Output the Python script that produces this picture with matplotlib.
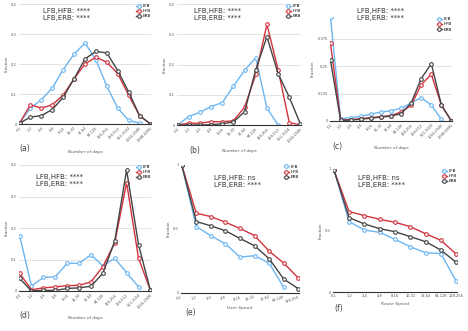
import numpy as np
import matplotlib
matplotlib.use("Agg")
import matplotlib.pyplot as plt

W, H = 468, 331

days13 = ["0-1", "1-2", "2-4", "4-8", "8-16", "16-32", "32-64", "64-128", "128-256",
          "256-512", "512-1024", "1024-2048", "2048-4096"]
days12 = days13[:12]
speed = ["0-1", "1-2", "2-4", "4-8", "8-16", "16-32", "32-64", "64-128", "128-256"]

nan = np.nan
# (a)
a_lfb = [0.003, 0.053, 0.081, 0.12, 0.181, 0.233, 0.27, 0.214, 0.126, 0.053, 0.012, 0.003, nan]
a_hfb = [0.003, 0.064, 0.053, 0.064, 0.096, 0.151, 0.2, 0.223, 0.206, 0.168, 0.096, 0.028, 0.0]
a_erb = [0.003, 0.023, 0.028, 0.048, 0.089, 0.151, 0.217, 0.242, 0.237, 0.178, 0.107, 0.028, 0.0]
# (b)
b_lfb = [0.0, 0.028, 0.042, 0.061, 0.074, 0.128, 0.181, 0.222, 0.056, 0.0, nan, nan]
b_hfb = [0.0, 0.006, 0.006, 0.011, 0.011, 0.014, 0.059, 0.167, 0.333, 0.183, 0.008, 0.0]
b_erb = [0.0, 0.0, 0.0, 0.001, 0.004, 0.01, 0.044, 0.183, 0.292, 0.17, 0.092, 0.003]
# (c)
c_lfb = [0.473, 0.011, 0.015, 0.021, 0.032, 0.04, 0.047, 0.058, 0.082, 0.107, 0.072, 0.008, nan]
c_hfb = [0.354, 0.006, 0.006, 0.011, 0.015, 0.02, 0.025, 0.041, 0.072, 0.166, 0.213, 0.072, 0.0]
c_erb = [0.277, 0.003, 0.004, 0.008, 0.013, 0.018, 0.022, 0.034, 0.082, 0.194, 0.262, 0.072, 0.0]
# (d)
d_lfb = [0.176, 0.016, 0.043, 0.045, 0.088, 0.088, 0.115, 0.08, 0.104, 0.058, 0.013, nan]
d_hfb = [0.056, 0.004, 0.01, 0.013, 0.017, 0.018, 0.029, 0.077, 0.153, 0.344, 0.104, 0.002]
d_erb = [0.04, 0.0, 0.002, 0.002, 0.008, 0.01, 0.015, 0.056, 0.158, 0.384, 0.147, 0.002]
# (e)
e_lfb = [1.0, 0.519, 0.447, 0.384, 0.281, 0.291, 0.234, 0.044, nan]
e_hfb = [1.0, 0.623, 0.597, 0.553, 0.504, 0.449, 0.327, 0.234, 0.117]
e_erb = [1.0, 0.558, 0.525, 0.486, 0.426, 0.369, 0.268, 0.109, 0.034]
# (f)
f_lfb = [1.0, 0.572, 0.504, 0.485, 0.428, 0.368, 0.319, 0.313, 0.087]
f_hfb = [0.995, 0.654, 0.621, 0.591, 0.567, 0.531, 0.474, 0.42, 0.308]
f_erb = [0.995, 0.605, 0.553, 0.515, 0.49, 0.45, 0.409, 0.341, 0.24]

BLUE = "#6cb6f2"
RED = "#d2333f"
DARK = "#444444"

fig = plt.figure(figsize=(W / 100, H / 100), dpi=100)


def rect(x0, x1, ytop, ybot):
    return [x0 / W, 1 - ybot / H, (x1 - x0) / W, (ybot - ytop) / H]


def panel(r, cats, series, names, ylim, yticks, ylabels, letter, xlabel, stats,
          rot=45, grid=True, anno=(0.2, 0.97), letter_xy=(0.0, -0.17), xl_y=-0.22):
    ax = fig.add_axes(r)
    x = np.arange(len(cats))
    for vals, col, nm in zip(series, [BLUE, RED, DARK], names):
        ax.plot(x, vals, color=col, lw=1.0, marker="o", ms=2.6, mfc="white",
                mew=0.8, label=nm)
    ax.set_xlim(-0.05, len(cats) - 1 + 0.05)
    ax.set_ylim(*ylim)
    ax.set_xticks(x)
    ax.set_xticklabels(cats, rotation=rot, fontsize=2.6, color="#555555",
                       ha="right" if rot else "center", rotation_mode="anchor")
    ax.set_yticks(yticks)
    ax.set_yticklabels(ylabels, fontsize=2.6, color="#555555")
    ax.tick_params(length=0, pad=1.5)
    for s in ["top", "right", "left"]:
        ax.spines[s].set_visible(False)
    ax.spines["bottom"].set_color("#333333")
    ax.spines["bottom"].set_linewidth(0.8)
    if grid:
        ax.yaxis.grid(True, color="#dddddd", lw=0.6)
        ax.set_axisbelow(True)
    ax.set_ylabel("Fraction", fontsize=3, color="#555555", labelpad=2)
    ax.text(0.5, xl_y, xlabel, transform=ax.transAxes, fontsize=3.2,
            color="#555555", ha="center", va="top", style="italic")
    ax.text(letter_xy[0], letter_xy[1], letter, transform=ax.transAxes,
            fontsize=5.5, color="#444444", ha="left", va="top")
    ax.text(anno[0], anno[1], stats[0] + "\n" + stats[1], transform=ax.transAxes,
            fontsize=5.0, color="#333333", ha="left", va="top", linespacing=1.2)
    ax.legend(loc="upper right", bbox_to_anchor=(1.02, 1.02), fontsize=3,
              frameon=False, handlelength=1.2, handletextpad=0.4,
              labelspacing=0.25, borderaxespad=0.2)
    return ax


names = ["LFB", "HFB", "ERB"]
stars = ["LFB,HFB: ****", "LFB,ERB: ****"]

panel(rect(19, 151, 4, 124), days13, [a_lfb, a_hfb, a_erb], names, (0, 0.4),
      [0, 0.1, 0.2, 0.3, 0.4], ["0", "0.1", "0.2", "0.3", "0.4"], "(a)",
      "Number of days", stars, anno=(0.18, 0.97))
panel(rect(177, 301, 4, 125), days12, [b_lfb, b_hfb, b_erb], names, (0, 0.4),
      [0, 0.1, 0.2, 0.3, 0.4], ["0", "0.1", "0.2", "0.3", "0.4"], "(b)",
      "Number of days", stars, anno=(0.14, 0.97), letter_xy=(0.1, -0.17), xl_y=-0.2)
panel(rect(330, 452, 17, 121), days13, [c_lfb, c_hfb, c_erb], names, (0, 0.475),
      [0, 0.125, 0.25, 0.375], ["0", "0.125", "0.25", "0.375"], "(c)",
      "Number of days", stars, anno=(0.22, 1.09), letter_xy=(0.02, -0.2), xl_y=-0.24)
panel(rect(19, 151, 165, 291), days12, [d_lfb, d_hfb, d_erb], names, (0, 0.4),
      [0, 0.1, 0.2, 0.3, 0.4], ["0", "0.1", "0.2", "0.3", "0.4"], "(d)",
      "Number of days", stars, anno=(0.13, 0.93), letter_xy=(0.0, -0.16), xl_y=-0.2)
panel(rect(181, 299, 165, 293), speed, [e_lfb, e_hfb, e_erb], names, (0, 1),
      [0, 0.5, 1], ["0", "0.5", "1"], "(e)", "User Speed",
      ["LFB,HFB: ns", "LFB,ERB: ****"], rot=20, grid=False, anno=(0.28, 0.92),
      letter_xy=(0.04, -0.12), xl_y=-0.1)
panel(rect(333, 457, 169, 292), speed, [f_lfb, f_hfb, f_erb], names, (0, 1),
      [0, 0.5, 1], ["0", "0.5", "1"], "(f)", "Route Speed",
      ["LFB,HFB: ns", "LFB,ERB: ****"], rot=0, grid=False, anno=(0.2, 0.95),
      letter_xy=(0.01, -0.1), xl_y=-0.08)

fig.savefig("out.png", dpi=100)
